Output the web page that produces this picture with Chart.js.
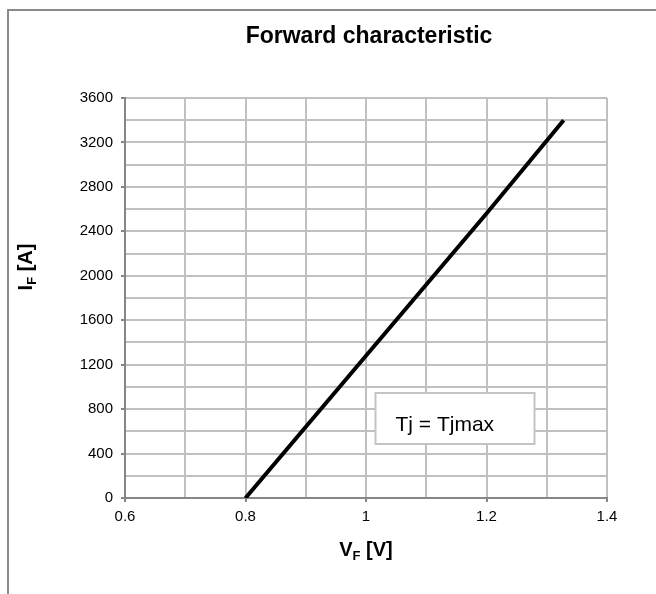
<!DOCTYPE html>
<html>
<head>
<meta charset="utf-8">
<script src="https://cdn.jsdelivr.net/npm/chart.js@4/dist/chart.umd.min.js"></script>
<style>
  html, body { margin: 0; padding: 0; background: #fff; overflow: hidden; }
  #wrap { position: relative; width: 656px; height: 594px; }
  #frame { position: absolute; left: 7px; top: 9px; width: 700px; height: 700px; border: 2px solid #8a8a8a; box-sizing: border-box; }
  canvas { position: absolute; left: 0; top: 0; }
</style>
</head>
<body>
<div id="wrap">
  <div id="frame"></div>
  <canvas id="c" width="656" height="594"></canvas>
</div>
<script>
// ---- data ----
const titleText = "Forward characteristic";
const legendText = "Tj = Tjmax";
const vfValues = [0.8, 1.0, 1.2, 1.328];      // V_F [V]
const ifValues = [0, 1280, 2560, 3400];       // I_F [A]
const xTickLabels = [0.6, 0.8, 1.0, 1.2, 1.4];
const yTickLabels = [0, 400, 800, 1200, 1600, 2000, 2400, 2800, 3200, 3600];

const FONT = "'Liberation Sans', Arial, sans-serif";
const points = vfValues.map((v, i) => ({ x: v, y: ifValues[i] }));

function isXLabel(v) { return xTickLabels.some(t => Math.abs(t - v) < 1e-6); }
function isYLabel(v) { return yTickLabels.some(t => Math.abs(t - v) < 1e-6); }

const overlay = {
  id: 'overlay',
  afterDraw(chart) {
    const ctx = chart.ctx;
    const a = chart.chartArea;
    const cx = (a.left + a.right) / 2;
    ctx.save();
    // title
    ctx.fillStyle = '#000';
    ctx.font = "bold 23px " + FONT;
    ctx.textAlign = 'center';
    ctx.textBaseline = 'middle';
    ctx.fillText(titleText, cx + 3, 37);

    // axis title helper with subscript
    function drawSubTitle(main, sub, rest, x, y) {
      ctx.font = "bold 20px " + FONT;
      const w1 = ctx.measureText(main).width;
      ctx.font = "bold 13px " + FONT;
      const w2 = ctx.measureText(sub).width;
      ctx.font = "bold 20px " + FONT;
      const w3 = ctx.measureText(rest).width;
      const total = w1 + w2 + w3;
      let px = x - total / 2;
      ctx.textAlign = 'left';
      ctx.textBaseline = 'alphabetic';
      ctx.font = "bold 20px " + FONT;
      ctx.fillText(main, px, y);
      px += w1;
      ctx.font = "bold 13px " + FONT;
      ctx.fillText(sub, px, y + 4);
      px += w2;
      ctx.font = "bold 20px " + FONT;
      ctx.fillText(rest, px, y);
    }
    drawSubTitle("V", "F", " [V]", cx, 556);
    ctx.save();
    ctx.translate(32, 267);
    ctx.rotate(-Math.PI / 2);
    drawSubTitle("I", "F", " [A]", 0, 0);
    ctx.restore();

    // legend box
    const bx = a.left + 250.5, by = a.top + 295, bw = 159, bh = 51;
    ctx.fillStyle = '#fff';
    ctx.fillRect(bx, by, bw, bh);
    ctx.strokeStyle = '#c4c4c4';
    ctx.lineWidth = 2;
    ctx.strokeRect(bx, by, bw, bh);
    ctx.fillStyle = '#000';
    ctx.font = "21px " + FONT;
    ctx.textAlign = 'left';
    ctx.textBaseline = 'middle';
    ctx.fillText(legendText, bx + 20, by + 32);
    ctx.restore();
  }
};

new Chart(document.getElementById('c'), {
  type: 'scatter',
  data: {
    datasets: [{
      data: points,
      showLine: true,
      borderColor: '#000',
      borderWidth: 4,
      pointRadius: 0,
      fill: false,
      tension: 0
    }]
  },
  options: {
    responsive: false,
    animation: false,
    devicePixelRatio: 1,
    layout: { padding: { left: 0, top: 98, right: 49, bottom: 0 } },
    plugins: { legend: { display: false }, title: { display: false }, tooltip: { enabled: false } },
    scales: {
      x: {
        type: 'linear',
        min: 0.6, max: 1.4,
        afterFit(scale) { scale.height = 96; },
        ticks: {
          stepSize: 0.1,
          autoSkip: false,
          maxRotation: 0,
          color: '#000',
          padding: 6,
          font: { family: FONT, size: 15 },
          callback: (v) => isXLabel(v) ? String(Math.round(v * 10) / 10) : ''
        },
        grid: {
          color: '#c0c0c0',
          lineWidth: 2,
          tickLength: 4,
          tickColor: (c) => (c.tick && isXLabel(c.tick.value)) ? '#868686' : 'rgba(0,0,0,0)'
        },
        border: { color: '#868686', width: 2 }
      },
      y: {
        type: 'linear',
        min: 0, max: 3600,
        afterFit(scale) { scale.width = 125; },
        ticks: {
          stepSize: 200,
          autoSkip: false,
          color: '#000',
          padding: 8,
          font: { family: FONT, size: 15 },
          callback: (v) => isYLabel(v) ? String(v) : ''
        },
        grid: {
          color: '#c0c0c0',
          lineWidth: 2,
          tickLength: 4,
          tickColor: (c) => (c.tick && isYLabel(c.tick.value)) ? '#868686' : 'rgba(0,0,0,0)'
        },
        border: { color: '#868686', width: 2 }
      }
    }
  },
  plugins: [overlay]
});
</script>
</body>
</html>
